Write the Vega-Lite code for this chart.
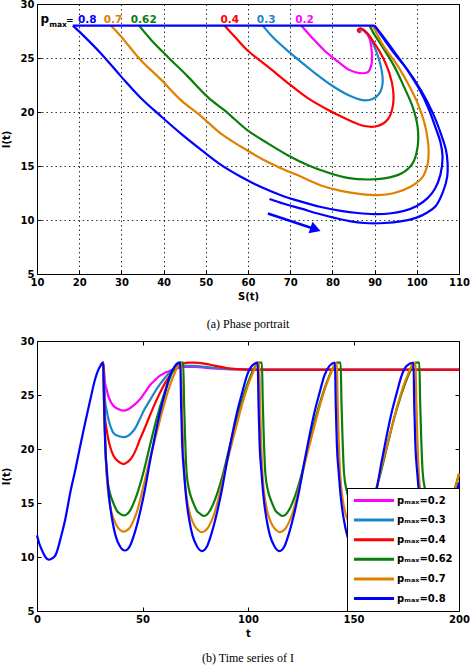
{
"$schema": "https://vega.github.io/schema/vega-lite/v6.json",
"background": "white",
"padding": {"left": 0, "top": -2, "right": 0, "bottom": 0},
"spacing": 4,
"config": {
  "view": {"stroke": "black", "strokeWidth": 1},
  "font": "DejaVu Sans",
  "axis": {"domain": false, "tickColor": "black", "tickSize": -4, "labelPadding": 7, "labelFont": "DejaVu Sans", "labelFontWeight": "bold", "labelFontSize": 10, "labelColor": "black", "titleFont": "DejaVu Sans", "titleFontWeight": "bold", "titleFontSize": 10, "titleColor": "black", "grid": false, "labelFlush": false, "titlePadding": 4},
  "axisLeft": {"titlePadding": 9},
  "title": {"orient": "bottom", "font": "Liberation Serif", "fontSize": 12, "fontWeight": "normal", "color": "black", "offset": 16}
},
"resolve": {"scale": {"color": "independent", "strokeWidth": "independent"}},
"datasets": {
"phase": [
{"p":"0.2","g":"a","k":1,"S":72.6,"I":28},{"p":"0.2","g":"a","k":2,"S":74.9,"I":27.0},{"p":"0.2","g":"a","k":3,"S":78.1,"I":25.7},{"p":"0.2","g":"a","k":4,"S":81.2,"I":24.7},{"p":"0.2","g":"a","k":5,"S":84.0,"I":23.9},{"p":"0.2","g":"a","k":6,"S":86.4,"I":23.6},{"p":"0.2","g":"a","k":7,"S":88.4,"I":23.7},{"p":"0.2","g":"a","k":8,"S":89.3,"I":24.5},{"p":"0.2","g":"a","k":9,"S":89.3,"I":25.7},{"p":"0.2","g":"a","k":10,"S":88.8,"I":26.8},{"p":"0.2","g":"a","k":11,"S":87.6,"I":27.5},{"p":"0.2","g":"a","k":12,"S":86.8,"I":27.6},{"p":"0.2","g":"a","k":13,"S":86.6,"I":27.35},
{"p":"0.3","g":"a","k":1,"S":63.5,"I":28},{"p":"0.3","g":"a","k":2,"S":66.2,"I":26.8},{"p":"0.3","g":"a","k":3,"S":70.2,"I":25.4},{"p":"0.3","g":"a","k":4,"S":74.9,"I":23.9},{"p":"0.3","g":"a","k":5,"S":79.7,"I":22.5},{"p":"0.3","g":"a","k":6,"S":83.6,"I":21.6},{"p":"0.3","g":"a","k":7,"S":87.2,"I":21.1},{"p":"0.3","g":"a","k":8,"S":89.5,"I":21.2},{"p":"0.3","g":"a","k":9,"S":91.1,"I":21.7},{"p":"0.3","g":"a","k":10,"S":91.9,"I":22.7},{"p":"0.3","g":"a","k":11,"S":91.5,"I":24.2},{"p":"0.3","g":"a","k":12,"S":90.3,"I":25.7},{"p":"0.3","g":"a","k":13,"S":88.8,"I":27.0},{"p":"0.3","g":"a","k":14,"S":87.2,"I":27.6},{"p":"0.3","g":"a","k":15,"S":86.4,"I":27.55},{"p":"0.3","g":"a","k":16,"S":86.5,"I":27.35},
{"p":"0.4","g":"a","k":1,"S":54.4,"I":28},{"p":"0.4","g":"a","k":2,"S":56.8,"I":27.0},{"p":"0.4","g":"a","k":3,"S":59.9,"I":25.7},{"p":"0.4","g":"a","k":4,"S":64.7,"I":24.2},{"p":"0.4","g":"a","k":5,"S":69.4,"I":22.7},{"p":"0.4","g":"a","k":6,"S":74.1,"I":21.3},{"p":"0.4","g":"a","k":7,"S":78.9,"I":20.2},{"p":"0.4","g":"a","k":8,"S":83.6,"I":19.3},{"p":"0.4","g":"a","k":9,"S":87.6,"I":18.7},{"p":"0.4","g":"a","k":10,"S":90.7,"I":18.7},{"p":"0.4","g":"a","k":11,"S":93.1,"I":19.3},{"p":"0.4","g":"a","k":12,"S":94.3,"I":20.5},{"p":"0.4","g":"a","k":13,"S":94.4,"I":22.0},{"p":"0.4","g":"a","k":14,"S":93.5,"I":23.6},{"p":"0.4","g":"a","k":15,"S":91.9,"I":25.1},{"p":"0.4","g":"a","k":16,"S":89.9,"I":26.4},{"p":"0.4","g":"a","k":17,"S":88.0,"I":27.4},{"p":"0.4","g":"a","k":18,"S":86.6,"I":27.75},{"p":"0.4","g":"a","k":19,"S":86.0,"I":27.55},{"p":"0.4","g":"a","k":20,"S":86.5,"I":27.35},
{"p":"0.62","g":"a","k":1,"S":34.2,"I":28},{"p":"0.62","g":"a","k":2,"S":37.0,"I":26.7},{"p":"0.62","g":"a","k":3,"S":41.0,"I":25.1},{"p":"0.62","g":"a","k":4,"S":45.7,"I":23.3},{"p":"0.62","g":"a","k":5,"S":50.4,"I":21.4},{"p":"0.62","g":"a","k":6,"S":55.2,"I":19.9},{"p":"0.62","g":"a","k":7,"S":59.9,"I":18.3},{"p":"0.62","g":"a","k":8,"S":64.7,"I":17.1},{"p":"0.62","g":"a","k":9,"S":69.4,"I":16.0},{"p":"0.62","g":"a","k":10,"S":74.1,"I":15.1},{"p":"0.62","g":"a","k":11,"S":78.9,"I":14.4},{"p":"0.62","g":"a","k":12,"S":83.6,"I":13.9},{"p":"0.62","g":"a","k":13,"S":88.4,"I":13.75},{"p":"0.62","g":"a","k":14,"S":92.3,"I":13.85},{"p":"0.62","g":"a","k":15,"S":96.3,"I":14.3},{"p":"0.62","g":"a","k":16,"S":99.0,"I":15.25},{"p":"0.62","g":"a","k":17,"S":100.2,"I":16.8},{"p":"0.62","g":"a","k":18,"S":100.2,"I":18.6},{"p":"0.62","g":"a","k":19,"S":99.0,"I":20.5},{"p":"0.62","g":"a","k":20,"S":97.0,"I":22.3},{"p":"0.62","g":"a","k":21,"S":94.7,"I":24.2},{"p":"0.62","g":"a","k":22,"S":91.9,"I":26.0},{"p":"0.62","g":"a","k":23,"S":89.6,"I":27.4},{"p":"0.62","g":"a","k":24,"S":88.8,"I":28},
{"p":"0.7","g":"a","k":1,"S":27.5,"I":28},{"p":"0.7","g":"a","k":2,"S":29.9,"I":27.0},{"p":"0.7","g":"a","k":3,"S":34.6,"I":24.8},{"p":"0.7","g":"a","k":4,"S":39.4,"I":23.0},{"p":"0.7","g":"a","k":5,"S":44.1,"I":21.1},{"p":"0.7","g":"a","k":6,"S":48.9,"I":19.6},{"p":"0.7","g":"a","k":7,"S":53.6,"I":18.0},{"p":"0.7","g":"a","k":8,"S":58.3,"I":16.8},{"p":"0.7","g":"a","k":9,"S":63.1,"I":15.7},{"p":"0.7","g":"a","k":10,"S":67.8,"I":14.8},{"p":"0.7","g":"a","k":11,"S":72.6,"I":14.0},{"p":"0.7","g":"a","k":12,"S":77.3,"I":13.2},{"p":"0.7","g":"a","k":13,"S":82.0,"I":12.7},{"p":"0.7","g":"a","k":14,"S":86.8,"I":12.4},{"p":"0.7","g":"a","k":15,"S":90.7,"I":12.3},{"p":"0.7","g":"a","k":16,"S":94.7,"I":12.5},{"p":"0.7","g":"a","k":17,"S":98.6,"I":13.1},{"p":"0.7","g":"a","k":18,"S":101.4,"I":14.0},{"p":"0.7","g":"a","k":19,"S":102.6,"I":15.25},{"p":"0.7","g":"a","k":20,"S":102.8,"I":16.5},{"p":"0.7","g":"a","k":21,"S":102.6,"I":17.4},{"p":"0.7","g":"a","k":22,"S":101.8,"I":19.0},{"p":"0.7","g":"a","k":23,"S":100.2,"I":20.8},{"p":"0.7","g":"a","k":24,"S":97.8,"I":22.7},{"p":"0.7","g":"a","k":25,"S":95.1,"I":24.5},{"p":"0.7","g":"a","k":26,"S":92.3,"I":26.0},{"p":"0.7","g":"a","k":27,"S":90.5,"I":27.3},{"p":"0.7","g":"a","k":28,"S":89.5,"I":28},
{"p":"0.8","g":"i","k":1,"S":65.1,"I":11.94},{"p":"0.8","g":"i","k":2,"S":68.5,"I":11.5},{"p":"0.8","g":"i","k":3,"S":72.6,"I":11.05},{"p":"0.8","g":"i","k":4,"S":76.5,"I":10.6},{"p":"0.8","g":"i","k":5,"S":80.5,"I":10.2},{"p":"0.8","g":"i","k":6,"S":84.0,"I":9.9},{"p":"0.8","g":"i","k":7,"S":87.6,"I":9.72},{"p":"0.8","g":"i","k":8,"S":92.3,"I":9.72},{"p":"0.8","g":"i","k":9,"S":96.5,"I":9.9},{"p":"0.8","g":"i","k":10,"S":99.8,"I":10.2},{"p":"0.8","g":"i","k":11,"S":102.5,"I":10.7},{"p":"0.8","g":"i","k":12,"S":104.5,"I":11.3},{"p":"0.8","g":"i","k":13,"S":106.2,"I":12.6},{"p":"0.8","g":"i","k":14,"S":107.2,"I":14.0},{"p":"0.8","g":"i","k":15,"S":107.3,"I":15.25},{"p":"0.8","g":"i","k":16,"S":106.9,"I":16.5},{"p":"0.8","g":"i","k":17,"S":105.7,"I":18.0},{"p":"0.8","g":"i","k":18,"S":103.8,"I":19.9},{"p":"0.8","g":"i","k":19,"S":101.0,"I":22.0},{"p":"0.8","g":"i","k":20,"S":97.8,"I":23.9},{"p":"0.8","g":"i","k":21,"S":94.7,"I":25.4},{"p":"0.8","g":"i","k":22,"S":92.3,"I":26.7},{"p":"0.8","g":"i","k":23,"S":90,"I":28},
{"p":"0.8","g":"l","k":1,"S":18.5,"I":28},{"p":"0.8","g":"l","k":2,"S":20.4,"I":27.3},{"p":"0.8","g":"l","k":3,"S":25.2,"I":25.4},{"p":"0.8","g":"l","k":4,"S":29.9,"I":23.3},{"p":"0.8","g":"l","k":5,"S":34.6,"I":21.3},{"p":"0.8","g":"l","k":6,"S":39.4,"I":19.6},{"p":"0.8","g":"l","k":7,"S":44.1,"I":18.0},{"p":"0.8","g":"l","k":8,"S":48.9,"I":16.5},{"p":"0.8","g":"l","k":9,"S":53.6,"I":15.1},{"p":"0.8","g":"l","k":10,"S":58.3,"I":14.0},{"p":"0.8","g":"l","k":11,"S":63.1,"I":13.05},{"p":"0.8","g":"l","k":12,"S":67.8,"I":12.3},{"p":"0.8","g":"l","k":13,"S":72.6,"I":11.7},{"p":"0.8","g":"l","k":14,"S":77.3,"I":11.2},{"p":"0.8","g":"l","k":15,"S":82.0,"I":10.85},{"p":"0.8","g":"l","k":16,"S":86.0,"I":10.65},{"p":"0.8","g":"l","k":17,"S":89.9,"I":10.55},{"p":"0.8","g":"l","k":18,"S":93.5,"I":10.6},{"p":"0.8","g":"l","k":19,"S":97.0,"I":10.85},{"p":"0.8","g":"l","k":20,"S":100.0,"I":11.3},{"p":"0.8","g":"l","k":21,"S":102.5,"I":12.0},{"p":"0.8","g":"l","k":22,"S":104.3,"I":12.9},{"p":"0.8","g":"l","k":23,"S":105.6,"I":14.2},{"p":"0.8","g":"l","k":24,"S":106.1,"I":15.9},{"p":"0.8","g":"l","k":25,"S":105.6,"I":17.2},{"p":"0.8","g":"l","k":26,"S":104.4,"I":18.6},{"p":"0.8","g":"l","k":27,"S":102.8,"I":20.3},{"p":"0.8","g":"l","k":28,"S":100.6,"I":22.1},{"p":"0.8","g":"l","k":29,"S":97.9,"I":23.8},{"p":"0.8","g":"l","k":30,"S":95.0,"I":25.4},{"p":"0.8","g":"l","k":31,"S":92.4,"I":26.8},{"p":"0.8","g":"l","k":32,"S":90,"I":28},
{"p":"0.8","g":"h","k":1,"S":90,"I":28},{"p":"0.8","g":"h","k":2,"S":18.5,"I":28}
],
"lab": [
{"p":"0.8","S":21.9,"I":28.27,"txt":"0.8"},{"p":"0.7","S":28.0,"I":28.27,"txt":"0.7"},{"p":"0.62","S":35.3,"I":28.27,"txt":"0.62"},{"p":"0.4","S":55.7,"I":28.27,"txt":"0.4"},{"p":"0.3","S":64.3,"I":28.27,"txt":"0.3"},{"p":"0.2","S":73.4,"I":28.27,"txt":"0.2"}
],
"ts": [
{"p":"0.2","t":30.2,"I":27.75},{"p":"0.2","t":31.4,"I":28},{"p":"0.2","t":31.8,"I":27.2},{"p":"0.2","t":32.2,"I":26.2},{"p":"0.2","t":33,"I":25.5},{"p":"0.2","t":33.8,"I":24.9},{"p":"0.2","t":35,"I":24.35},{"p":"0.2","t":36.2,"I":24.0},{"p":"0.2","t":38.5,"I":23.7},{"p":"0.2","t":41,"I":23.55},{"p":"0.2","t":43,"I":23.65},{"p":"0.2","t":44.9,"I":23.9},{"p":"0.2","t":46.8,"I":24.2},{"p":"0.2","t":48.8,"I":24.6},{"p":"0.2","t":51,"I":25.2},{"p":"0.2","t":53.5,"I":25.9},{"p":"0.2","t":56,"I":26.4},{"p":"0.2","t":58.3,"I":26.8},{"p":"0.2","t":60.7,"I":27.05},{"p":"0.2","t":63,"I":27.25},{"p":"0.2","t":66.2,"I":27.45},{"p":"0.2","t":70,"I":27.6},{"p":"0.2","t":75,"I":27.6},{"p":"0.2","t":80,"I":27.52},{"p":"0.2","t":85,"I":27.45},{"p":"0.2","t":90,"I":27.4},{"p":"0.2","t":95,"I":27.37},{"p":"0.2","t":100,"I":27.35},{"p":"0.2","t":200,"I":27.35},
{"p":"0.3","t":30.2,"I":27.75},{"p":"0.3","t":31.4,"I":28},{"p":"0.3","t":31.8,"I":26.3},{"p":"0.3","t":32.2,"I":24.6},{"p":"0.3","t":33,"I":23.6},{"p":"0.3","t":33.8,"I":22.8},{"p":"0.3","t":35,"I":22.0},{"p":"0.3","t":36.2,"I":21.5},{"p":"0.3","t":38.5,"I":21.2},{"p":"0.3","t":41,"I":21.1},{"p":"0.3","t":43,"I":21.2},{"p":"0.3","t":44.9,"I":21.5},{"p":"0.3","t":46.8,"I":22.0},{"p":"0.3","t":48.8,"I":22.8},{"p":"0.3","t":51,"I":23.7},{"p":"0.3","t":53.5,"I":24.5},{"p":"0.3","t":55.9,"I":25.3},{"p":"0.3","t":58.3,"I":26.0},{"p":"0.3","t":60.7,"I":26.6},{"p":"0.3","t":63,"I":27.1},{"p":"0.3","t":66.2,"I":27.5},{"p":"0.3","t":70,"I":27.7},{"p":"0.3","t":75,"I":27.7},{"p":"0.3","t":80,"I":27.6},{"p":"0.3","t":85,"I":27.5},{"p":"0.3","t":90,"I":27.42},{"p":"0.3","t":95,"I":27.38},{"p":"0.3","t":100,"I":27.35},{"p":"0.3","t":200,"I":27.35},
{"p":"0.4","t":30.2,"I":27.75},{"p":"0.4","t":31.4,"I":28},{"p":"0.4","t":31.8,"I":25.5},{"p":"0.4","t":32.2,"I":23.1},{"p":"0.4","t":33,"I":21.8},{"p":"0.4","t":33.8,"I":20.9},{"p":"0.4","t":35,"I":20.0},{"p":"0.4","t":36.2,"I":19.4},{"p":"0.4","t":38.5,"I":18.85},{"p":"0.4","t":41,"I":18.6},{"p":"0.4","t":43,"I":18.8},{"p":"0.4","t":44.9,"I":19.2},{"p":"0.4","t":46.8,"I":19.9},{"p":"0.4","t":48.8,"I":20.9},{"p":"0.4","t":51,"I":21.9},{"p":"0.4","t":53.5,"I":23.1},{"p":"0.4","t":55.9,"I":24.2},{"p":"0.4","t":58.3,"I":25.2},{"p":"0.4","t":60.7,"I":26.1},{"p":"0.4","t":63,"I":26.8},{"p":"0.4","t":65,"I":27.35},{"p":"0.4","t":66.9,"I":27.7},{"p":"0.4","t":69,"I":27.9},{"p":"0.4","t":72,"I":28.0},{"p":"0.4","t":75,"I":28.0},{"p":"0.4","t":78,"I":27.95},{"p":"0.4","t":82,"I":27.8},{"p":"0.4","t":86,"I":27.65},{"p":"0.4","t":90,"I":27.5},{"p":"0.4","t":95,"I":27.4},{"p":"0.4","t":100,"I":27.35},{"p":"0.4","t":105,"I":27.33},{"p":"0.4","t":200,"I":27.33},
{"p":"0.62","t":30.2,"I":27.75},{"p":"0.62","t":31.4,"I":28},{"p":"0.62","t":31.8,"I":24.3},{"p":"0.62","t":32.3,"I":21.0},{"p":"0.62","t":33.0,"I":17.8},{"p":"0.62","t":34.2,"I":16.2},{"p":"0.62","t":35.4,"I":15.4},{"p":"0.62","t":36.6,"I":14.8},{"p":"0.62","t":37.8,"I":14.3},{"p":"0.62","t":39.4,"I":14.0},{"p":"0.62","t":41.0,"I":13.85},{"p":"0.62","t":42.5,"I":13.95},{"p":"0.62","t":44.1,"I":14.3},{"p":"0.62","t":45.6,"I":14.9},{"p":"0.62","t":47.2,"I":15.7},{"p":"0.62","t":50.4,"I":17.8},{"p":"0.62","t":53.5,"I":20.3},{"p":"0.62","t":56.7,"I":22.8},{"p":"0.62","t":59.9,"I":24.9},{"p":"0.62","t":63.0,"I":26.6},{"p":"0.62","t":65.4,"I":27.6},{"p":"0.62","t":66.9,"I":28},{"p":"0.62","t":69.3,"I":28},
{"p":"0.62","t":69.7,"I":24.3},{"p":"0.62","t":70.2,"I":21.0},{"p":"0.62","t":70.9,"I":17.8},{"p":"0.62","t":72.1,"I":16.2},{"p":"0.62","t":73.3,"I":15.4},{"p":"0.62","t":74.5,"I":14.8},{"p":"0.62","t":75.7,"I":14.3},{"p":"0.62","t":77.3,"I":14.0},{"p":"0.62","t":78.9,"I":13.8},{"p":"0.62","t":80.4,"I":13.9},{"p":"0.62","t":82.0,"I":14.3},{"p":"0.62","t":83.5,"I":14.9},{"p":"0.62","t":85.1,"I":15.7},{"p":"0.62","t":88.3,"I":17.8},{"p":"0.62","t":91.4,"I":20.3},{"p":"0.62","t":94.6,"I":22.8},{"p":"0.62","t":97.8,"I":24.9},{"p":"0.62","t":100.9,"I":26.6},{"p":"0.62","t":103.3,"I":27.6},{"p":"0.62","t":104.8,"I":28},{"p":"0.62","t":106.6,"I":28},
{"p":"0.62","t":107.0,"I":24.3},{"p":"0.62","t":107.5,"I":21.0},{"p":"0.62","t":108.2,"I":17.8},{"p":"0.62","t":109.4,"I":16.2},{"p":"0.62","t":110.6,"I":15.4},{"p":"0.62","t":111.8,"I":14.8},{"p":"0.62","t":113.0,"I":14.3},{"p":"0.62","t":114.6,"I":14.0},{"p":"0.62","t":116.2,"I":13.8},{"p":"0.62","t":117.7,"I":13.9},{"p":"0.62","t":119.3,"I":14.3},{"p":"0.62","t":120.8,"I":14.9},{"p":"0.62","t":122.4,"I":15.7},{"p":"0.62","t":125.6,"I":17.8},{"p":"0.62","t":128.7,"I":20.3},{"p":"0.62","t":131.9,"I":22.8},{"p":"0.62","t":135.1,"I":24.9},{"p":"0.62","t":138.2,"I":26.6},{"p":"0.62","t":140.6,"I":27.6},{"p":"0.62","t":142.1,"I":28},{"p":"0.62","t":143.9,"I":28},
{"p":"0.62","t":144.3,"I":24.3},{"p":"0.62","t":144.8,"I":21.0},{"p":"0.62","t":145.5,"I":17.8},{"p":"0.62","t":146.7,"I":16.2},{"p":"0.62","t":147.9,"I":15.4},{"p":"0.62","t":149.1,"I":14.8},{"p":"0.62","t":150.3,"I":14.3},{"p":"0.62","t":151.9,"I":14.0},{"p":"0.62","t":153.5,"I":13.8},{"p":"0.62","t":155.0,"I":13.9},{"p":"0.62","t":156.6,"I":14.3},{"p":"0.62","t":158.1,"I":14.9},{"p":"0.62","t":159.7,"I":15.7},{"p":"0.62","t":162.9,"I":17.8},{"p":"0.62","t":166.0,"I":20.3},{"p":"0.62","t":169.2,"I":22.8},{"p":"0.62","t":172.4,"I":24.9},{"p":"0.62","t":175.5,"I":26.6},{"p":"0.62","t":177.9,"I":27.6},{"p":"0.62","t":179.4,"I":28},{"p":"0.62","t":181.2,"I":28},
{"p":"0.62","t":181.6,"I":24.3},{"p":"0.62","t":182.1,"I":21.0},{"p":"0.62","t":182.8,"I":17.8},{"p":"0.62","t":184.0,"I":16.2},{"p":"0.62","t":185.2,"I":15.4},{"p":"0.62","t":186.4,"I":14.8},{"p":"0.62","t":187.6,"I":14.3},{"p":"0.62","t":189.2,"I":14.0},{"p":"0.62","t":190.8,"I":13.8},{"p":"0.62","t":192.3,"I":13.9},{"p":"0.62","t":193.9,"I":14.3},{"p":"0.62","t":195.4,"I":14.9},{"p":"0.62","t":197.0,"I":15.7},{"p":"0.62","t":200,"I":17.7},
{"p":"0.7","t":30.2,"I":27.75},{"p":"0.7","t":31.4,"I":28},{"p":"0.7","t":31.8,"I":24.2},{"p":"0.7","t":32.3,"I":20.8},{"p":"0.7","t":33.0,"I":17.6},{"p":"0.7","t":34.2,"I":15.3},{"p":"0.7","t":35.4,"I":14.1},{"p":"0.7","t":36.6,"I":13.4},{"p":"0.7","t":37.8,"I":12.9},{"p":"0.7","t":39.4,"I":12.5},{"p":"0.7","t":41.0,"I":12.35},{"p":"0.7","t":42.5,"I":12.45},{"p":"0.7","t":44.1,"I":12.75},{"p":"0.7","t":45.6,"I":13.3},{"p":"0.7","t":47.2,"I":14.1},{"p":"0.7","t":50.4,"I":16.5},{"p":"0.7","t":53.5,"I":19.1},{"p":"0.7","t":56.7,"I":21.5},{"p":"0.7","t":59.9,"I":23.9},{"p":"0.7","t":63.0,"I":25.9},{"p":"0.7","t":65.4,"I":27.1},{"p":"0.7","t":67.3,"I":27.9},{"p":"0.7","t":68.3,"I":28},
{"p":"0.7","t":68.7,"I":24.2},{"p":"0.7","t":69.2,"I":20.8},{"p":"0.7","t":69.9,"I":17.6},{"p":"0.7","t":71.1,"I":15.3},{"p":"0.7","t":72.3,"I":14.1},{"p":"0.7","t":73.5,"I":13.4},{"p":"0.7","t":74.7,"I":12.9},{"p":"0.7","t":76.3,"I":12.5},{"p":"0.7","t":77.9,"I":12.3},{"p":"0.7","t":79.4,"I":12.4},{"p":"0.7","t":81.0,"I":12.7},{"p":"0.7","t":82.5,"I":13.25},{"p":"0.7","t":84.1,"I":14.05},{"p":"0.7","t":87.3,"I":16.45},{"p":"0.7","t":90.4,"I":19.05},{"p":"0.7","t":93.6,"I":21.45},{"p":"0.7","t":96.8,"I":23.85},{"p":"0.7","t":99.9,"I":25.85},{"p":"0.7","t":102.3,"I":27.05},{"p":"0.7","t":104.2,"I":27.85},{"p":"0.7","t":105.3,"I":28},
{"p":"0.7","t":105.7,"I":24.2},{"p":"0.7","t":106.2,"I":20.8},{"p":"0.7","t":106.9,"I":17.6},{"p":"0.7","t":108.1,"I":15.3},{"p":"0.7","t":109.3,"I":14.1},{"p":"0.7","t":110.5,"I":13.4},{"p":"0.7","t":111.7,"I":12.9},{"p":"0.7","t":113.3,"I":12.5},{"p":"0.7","t":114.9,"I":12.3},{"p":"0.7","t":116.4,"I":12.4},{"p":"0.7","t":118.0,"I":12.7},{"p":"0.7","t":119.5,"I":13.25},{"p":"0.7","t":121.1,"I":14.05},{"p":"0.7","t":124.3,"I":16.45},{"p":"0.7","t":127.4,"I":19.05},{"p":"0.7","t":130.6,"I":21.45},{"p":"0.7","t":133.8,"I":23.85},{"p":"0.7","t":136.9,"I":25.85},{"p":"0.7","t":139.3,"I":27.05},{"p":"0.7","t":141.2,"I":27.85},{"p":"0.7","t":142.1,"I":28},
{"p":"0.7","t":142.5,"I":24.2},{"p":"0.7","t":143.0,"I":20.8},{"p":"0.7","t":143.7,"I":17.6},{"p":"0.7","t":144.9,"I":15.3},{"p":"0.7","t":146.1,"I":14.1},{"p":"0.7","t":147.3,"I":13.4},{"p":"0.7","t":148.5,"I":12.9},{"p":"0.7","t":150.1,"I":12.5},{"p":"0.7","t":151.7,"I":12.3},{"p":"0.7","t":153.2,"I":12.4},{"p":"0.7","t":154.8,"I":12.7},{"p":"0.7","t":156.3,"I":13.25},{"p":"0.7","t":157.9,"I":14.05},{"p":"0.7","t":161.1,"I":16.45},{"p":"0.7","t":164.2,"I":19.05},{"p":"0.7","t":167.4,"I":21.45},{"p":"0.7","t":170.6,"I":23.85},{"p":"0.7","t":173.7,"I":25.85},{"p":"0.7","t":176.1,"I":27.05},{"p":"0.7","t":178.0,"I":27.85},{"p":"0.7","t":179.4,"I":28},
{"p":"0.7","t":179.8,"I":24.2},{"p":"0.7","t":180.3,"I":20.8},{"p":"0.7","t":181.0,"I":17.6},{"p":"0.7","t":182.2,"I":15.3},{"p":"0.7","t":183.4,"I":14.1},{"p":"0.7","t":184.6,"I":13.4},{"p":"0.7","t":185.8,"I":12.9},{"p":"0.7","t":187.4,"I":12.5},{"p":"0.7","t":189.0,"I":12.3},{"p":"0.7","t":190.5,"I":12.4},{"p":"0.7","t":192.1,"I":12.7},{"p":"0.7","t":193.6,"I":13.25},{"p":"0.7","t":195.2,"I":14.05},{"p":"0.7","t":198.4,"I":16.45},{"p":"0.7","t":200,"I":17.7},
{"p":"0.8","t":0,"I":12.0},{"p":"0.8","t":1,"I":11.3},{"p":"0.8","t":2.4,"I":10.6},{"p":"0.8","t":4,"I":10.0},{"p":"0.8","t":5.5,"I":9.75},{"p":"0.8","t":7,"I":9.85},{"p":"0.8","t":8.7,"I":10.15},{"p":"0.8","t":10,"I":10.85},{"p":"0.8","t":11.1,"I":11.67},{"p":"0.8","t":12.2,"I":12.5},{"p":"0.8","t":13.4,"I":13.5},{"p":"0.8","t":15.8,"I":16.0},{"p":"0.8","t":18.2,"I":18.1},{"p":"0.8","t":20.5,"I":20.3},{"p":"0.8","t":22.9,"I":22.5},{"p":"0.8","t":25.3,"I":24.6},{"p":"0.8","t":27.6,"I":26.5},{"p":"0.8","t":29,"I":27.3},{"p":"0.8","t":30.2,"I":27.75},{"p":"0.8","t":31.4,"I":28},
{"p":"0.8","t":31.8,"I":24},{"p":"0.8","t":32.3,"I":20.5},{"p":"0.8","t":33.2,"I":17.8},{"p":"0.8","t":34.3,"I":15.3},{"p":"0.8","t":35.6,"I":13.5},{"p":"0.8","t":37.2,"I":12.0},{"p":"0.8","t":39.3,"I":11.0},{"p":"0.8","t":41.7,"I":10.6},{"p":"0.8","t":44.1,"I":11.05},{"p":"0.8","t":46.4,"I":12.3},{"p":"0.8","t":48.8,"I":14.1},{"p":"0.8","t":51.2,"I":16.3},{"p":"0.8","t":53.5,"I":18.8},{"p":"0.8","t":55.9,"I":21.2},{"p":"0.8","t":58.3,"I":23.4},{"p":"0.8","t":60.7,"I":25.2},{"p":"0.8","t":63.0,"I":26.8},{"p":"0.8","t":65.4,"I":27.7},{"p":"0.8","t":67.9,"I":28},
{"p":"0.8","t":68.3,"I":24},{"p":"0.8","t":68.8,"I":20.5},{"p":"0.8","t":69.7,"I":17.8},{"p":"0.8","t":70.8,"I":15.3},{"p":"0.8","t":72.1,"I":13.5},{"p":"0.8","t":73.7,"I":12.0},{"p":"0.8","t":75.8,"I":11.0},{"p":"0.8","t":78.2,"I":10.55},{"p":"0.8","t":80.6,"I":11.0},{"p":"0.8","t":82.9,"I":12.3},{"p":"0.8","t":85.3,"I":14.1},{"p":"0.8","t":87.7,"I":16.3},{"p":"0.8","t":90.0,"I":18.8},{"p":"0.8","t":92.4,"I":21.2},{"p":"0.8","t":94.8,"I":23.4},{"p":"0.8","t":97.2,"I":25.2},{"p":"0.8","t":99.5,"I":26.8},{"p":"0.8","t":101.9,"I":27.7},{"p":"0.8","t":104.6,"I":28},
{"p":"0.8","t":105.0,"I":24},{"p":"0.8","t":105.5,"I":20.5},{"p":"0.8","t":106.4,"I":17.8},{"p":"0.8","t":107.5,"I":15.3},{"p":"0.8","t":108.8,"I":13.5},{"p":"0.8","t":110.4,"I":12.0},{"p":"0.8","t":112.5,"I":11.0},{"p":"0.8","t":114.9,"I":10.55},{"p":"0.8","t":117.3,"I":11.0},{"p":"0.8","t":119.6,"I":12.3},{"p":"0.8","t":122.0,"I":14.1},{"p":"0.8","t":124.4,"I":16.3},{"p":"0.8","t":126.7,"I":18.8},{"p":"0.8","t":129.1,"I":21.2},{"p":"0.8","t":131.5,"I":23.4},{"p":"0.8","t":133.9,"I":25.2},{"p":"0.8","t":136.2,"I":26.8},{"p":"0.8","t":138.6,"I":27.7},{"p":"0.8","t":141.2,"I":28},
{"p":"0.8","t":141.6,"I":24},{"p":"0.8","t":142.1,"I":20.5},{"p":"0.8","t":143.0,"I":17.8},{"p":"0.8","t":144.1,"I":15.3},{"p":"0.8","t":145.4,"I":13.5},{"p":"0.8","t":147.0,"I":12.0},{"p":"0.8","t":149.1,"I":11.0},{"p":"0.8","t":151.5,"I":10.55},{"p":"0.8","t":153.9,"I":11.0},{"p":"0.8","t":156.2,"I":12.3},{"p":"0.8","t":158.6,"I":14.1},{"p":"0.8","t":161.0,"I":16.3},{"p":"0.8","t":163.3,"I":18.8},{"p":"0.8","t":165.7,"I":21.2},{"p":"0.8","t":168.1,"I":23.4},{"p":"0.8","t":170.5,"I":25.2},{"p":"0.8","t":172.8,"I":26.8},{"p":"0.8","t":175.2,"I":27.7},{"p":"0.8","t":178.4,"I":28},
{"p":"0.8","t":178.8,"I":24},{"p":"0.8","t":179.3,"I":20.5},{"p":"0.8","t":180.2,"I":17.8},{"p":"0.8","t":181.4,"I":15.3},{"p":"0.8","t":182.8,"I":13.5},{"p":"0.8","t":184.5,"I":12.0},{"p":"0.8","t":186.8,"I":11.0},{"p":"0.8","t":189.3,"I":10.55},{"p":"0.8","t":191.8,"I":11.0},{"p":"0.8","t":194.2,"I":12.3},{"p":"0.8","t":196.6,"I":14.1},{"p":"0.8","t":199.0,"I":16.1},{"p":"0.8","t":200,"I":16.9}
]
},
"vconcat": [
{
  "width": 422, "height": 270,
  "title": {"text": "(a) Phase portrait", "offset": 18},
  "layer": [
    {
      "data": {"name": "phase"},
      "mark": {"type": "line", "interpolate": "catmull-rom"},
      "encoding": {
        "x": {"field": "S", "type": "quantitative", "scale": {"domain": [10, 110], "nice": false}, "axis": {"values": [10,20,30,40,50,60,70,80,90,100,110], "grid": true, "gridDash": [1.5, 3], "gridColor": "black", "gridOpacity": 1, "gridWidth": 0.8, "title": "S(t)"}},
        "y": {"field": "I", "type": "quantitative", "scale": {"domain": [5, 30], "nice": false}, "axis": {"values": [5,10,15,20,25,30], "grid": true, "gridDash": [1.5, 3], "gridColor": "black", "gridOpacity": 1, "gridWidth": 0.8, "title": "I(t)"}},
        "color": {"field": "p", "type": "nominal", "scale": {"domain": ["0.2","0.3","0.4","0.62","0.7","0.8"], "range": ["#ff00ff","#1a86c8","#ff0000","#0a7d0a","#e08000","#0000ff"]}, "legend": null},
        "strokeWidth": {"field": "p", "type": "nominal", "scale": {"domain": ["0.2","0.3","0.4","0.62","0.7","0.8"], "range": [2.2, 2.2, 2.3, 4.6, 3.3, 2.8]}, "legend": null},
        "detail": {"field": "g"},
        "order": {"field": "k", "type": "quantitative"}
      }
    },
    {
      "data": {"values": [{"k": 1, "S": 64.7, "I": 10.6}, {"k": 2, "S": 75.8, "I": 9.17}]},
      "mark": {"type": "line", "color": "#0000ff", "strokeWidth": 2.6},
      "encoding": {"x": {"field": "S", "type": "quantitative"}, "y": {"field": "I", "type": "quantitative"}, "order": {"field": "k", "type": "quantitative"}}
    },
    {
      "data": {"values": [{"S": 76.0, "I": 9.15}]},
      "mark": {"type": "point", "shape": "triangle-right", "filled": true, "color": "#0000ff", "opacity": 1, "size": 150, "angle": 19},
      "encoding": {"x": {"field": "S", "type": "quantitative"}, "y": {"field": "I", "type": "quantitative"}}
    },
    {
      "data": {"name": "lab"},
      "mark": {"type": "text", "align": "center", "baseline": "alphabetic", "font": "DejaVu Sans", "fontWeight": "bold", "fontSize": 10.5},
      "encoding": {"x": {"field": "S", "type": "quantitative"}, "y": {"field": "I", "type": "quantitative"}, "text": {"field": "txt"}, "color": {"field": "p", "type": "nominal", "legend": null}}
    },
    {
      "data": {"values": [{"S": 10.8, "I": 28.21, "txt": "p"}]},
      "mark": {"type": "text", "align": "left", "baseline": "alphabetic", "font": "DejaVu Sans", "fontWeight": "bold", "fontSize": 12, "color": "black"},
      "encoding": {"x": {"field": "S", "type": "quantitative"}, "y": {"field": "I", "type": "quantitative"}, "text": {"field": "txt"}}
    },
    {
      "data": {"values": [{"S": 12.9, "I": 27.84, "txt": "max"}]},
      "mark": {"type": "text", "align": "left", "baseline": "alphabetic", "font": "DejaVu Sans", "fontWeight": "bold", "fontSize": 7.5, "color": "black"},
      "encoding": {"x": {"field": "S", "type": "quantitative"}, "y": {"field": "I", "type": "quantitative"}, "text": {"field": "txt"}}
    },
    {
      "data": {"values": [{"S": 16.9, "I": 28.2, "txt": "="}]},
      "mark": {"type": "text", "align": "left", "baseline": "alphabetic", "font": "DejaVu Sans", "fontWeight": "bold", "fontSize": 9, "color": "black"},
      "encoding": {"x": {"field": "S", "type": "quantitative"}, "y": {"field": "I", "type": "quantitative"}, "text": {"field": "txt"}}
    }
  ]
},
{
  "width": 422, "height": 270,
  "title": {"text": "(b) Time series of I", "offset": 15},
  "data": {"name": "ts"},
  "layer": [
    {
      "mark": {"type": "line", "interpolate": "monotone", "strokeWidth": 2.2},
      "encoding": {
        "x": {"field": "t", "type": "quantitative", "scale": {"domain": [0, 200], "nice": false}, "axis": {"values": [0,50,100,150,200], "title": "t"}},
        "y": {"field": "I", "type": "quantitative", "scale": {"domain": [5, 30], "nice": false}, "axis": {"values": [5,10,15,20,25,30], "title": "I(t)"}},
        "color": {"field": "p", "type": "nominal", "scale": {"domain": ["0.2","0.3","0.4","0.62","0.7","0.8"], "range": ["#ff00ff","#1a86c8","#ff0000","#0a7d0a","#e08000","#0000ff"]},
          "legend": {"orient": "bottom-right", "offset": 0, "title": null, "symbolType": "M-4,0L4,0", "symbolSize": 100, "symbolOffset": 14.5, "symbolStrokeWidth": 3, "labelFont": "DejaVu Sans", "labelFontWeight": "bold", "labelFontSize": 10, "labelColor": "black", "rowPadding": 6.6, "padding": 6, "fillColor": "white", "strokeColor": "black", "labelOffset": 16.5, "labelExpr": "'pₘₐₓ=' + datum.label"}}
      }
    },
    {
      "mark": {"type": "point", "opacity": 0},
      "encoding": {
        "x": {"field": "t", "type": "quantitative", "axis": {"orient": "top", "values": [0,50,100,150,200], "labels": false, "title": null}},
        "y": {"field": "I", "type": "quantitative", "axis": {"orient": "right", "values": [5,10,15,20,25,30], "labels": false, "title": null}}
      }
    }
  ],
  "resolve": {"axis": {"x": "independent", "y": "independent"}}
}
]
}
